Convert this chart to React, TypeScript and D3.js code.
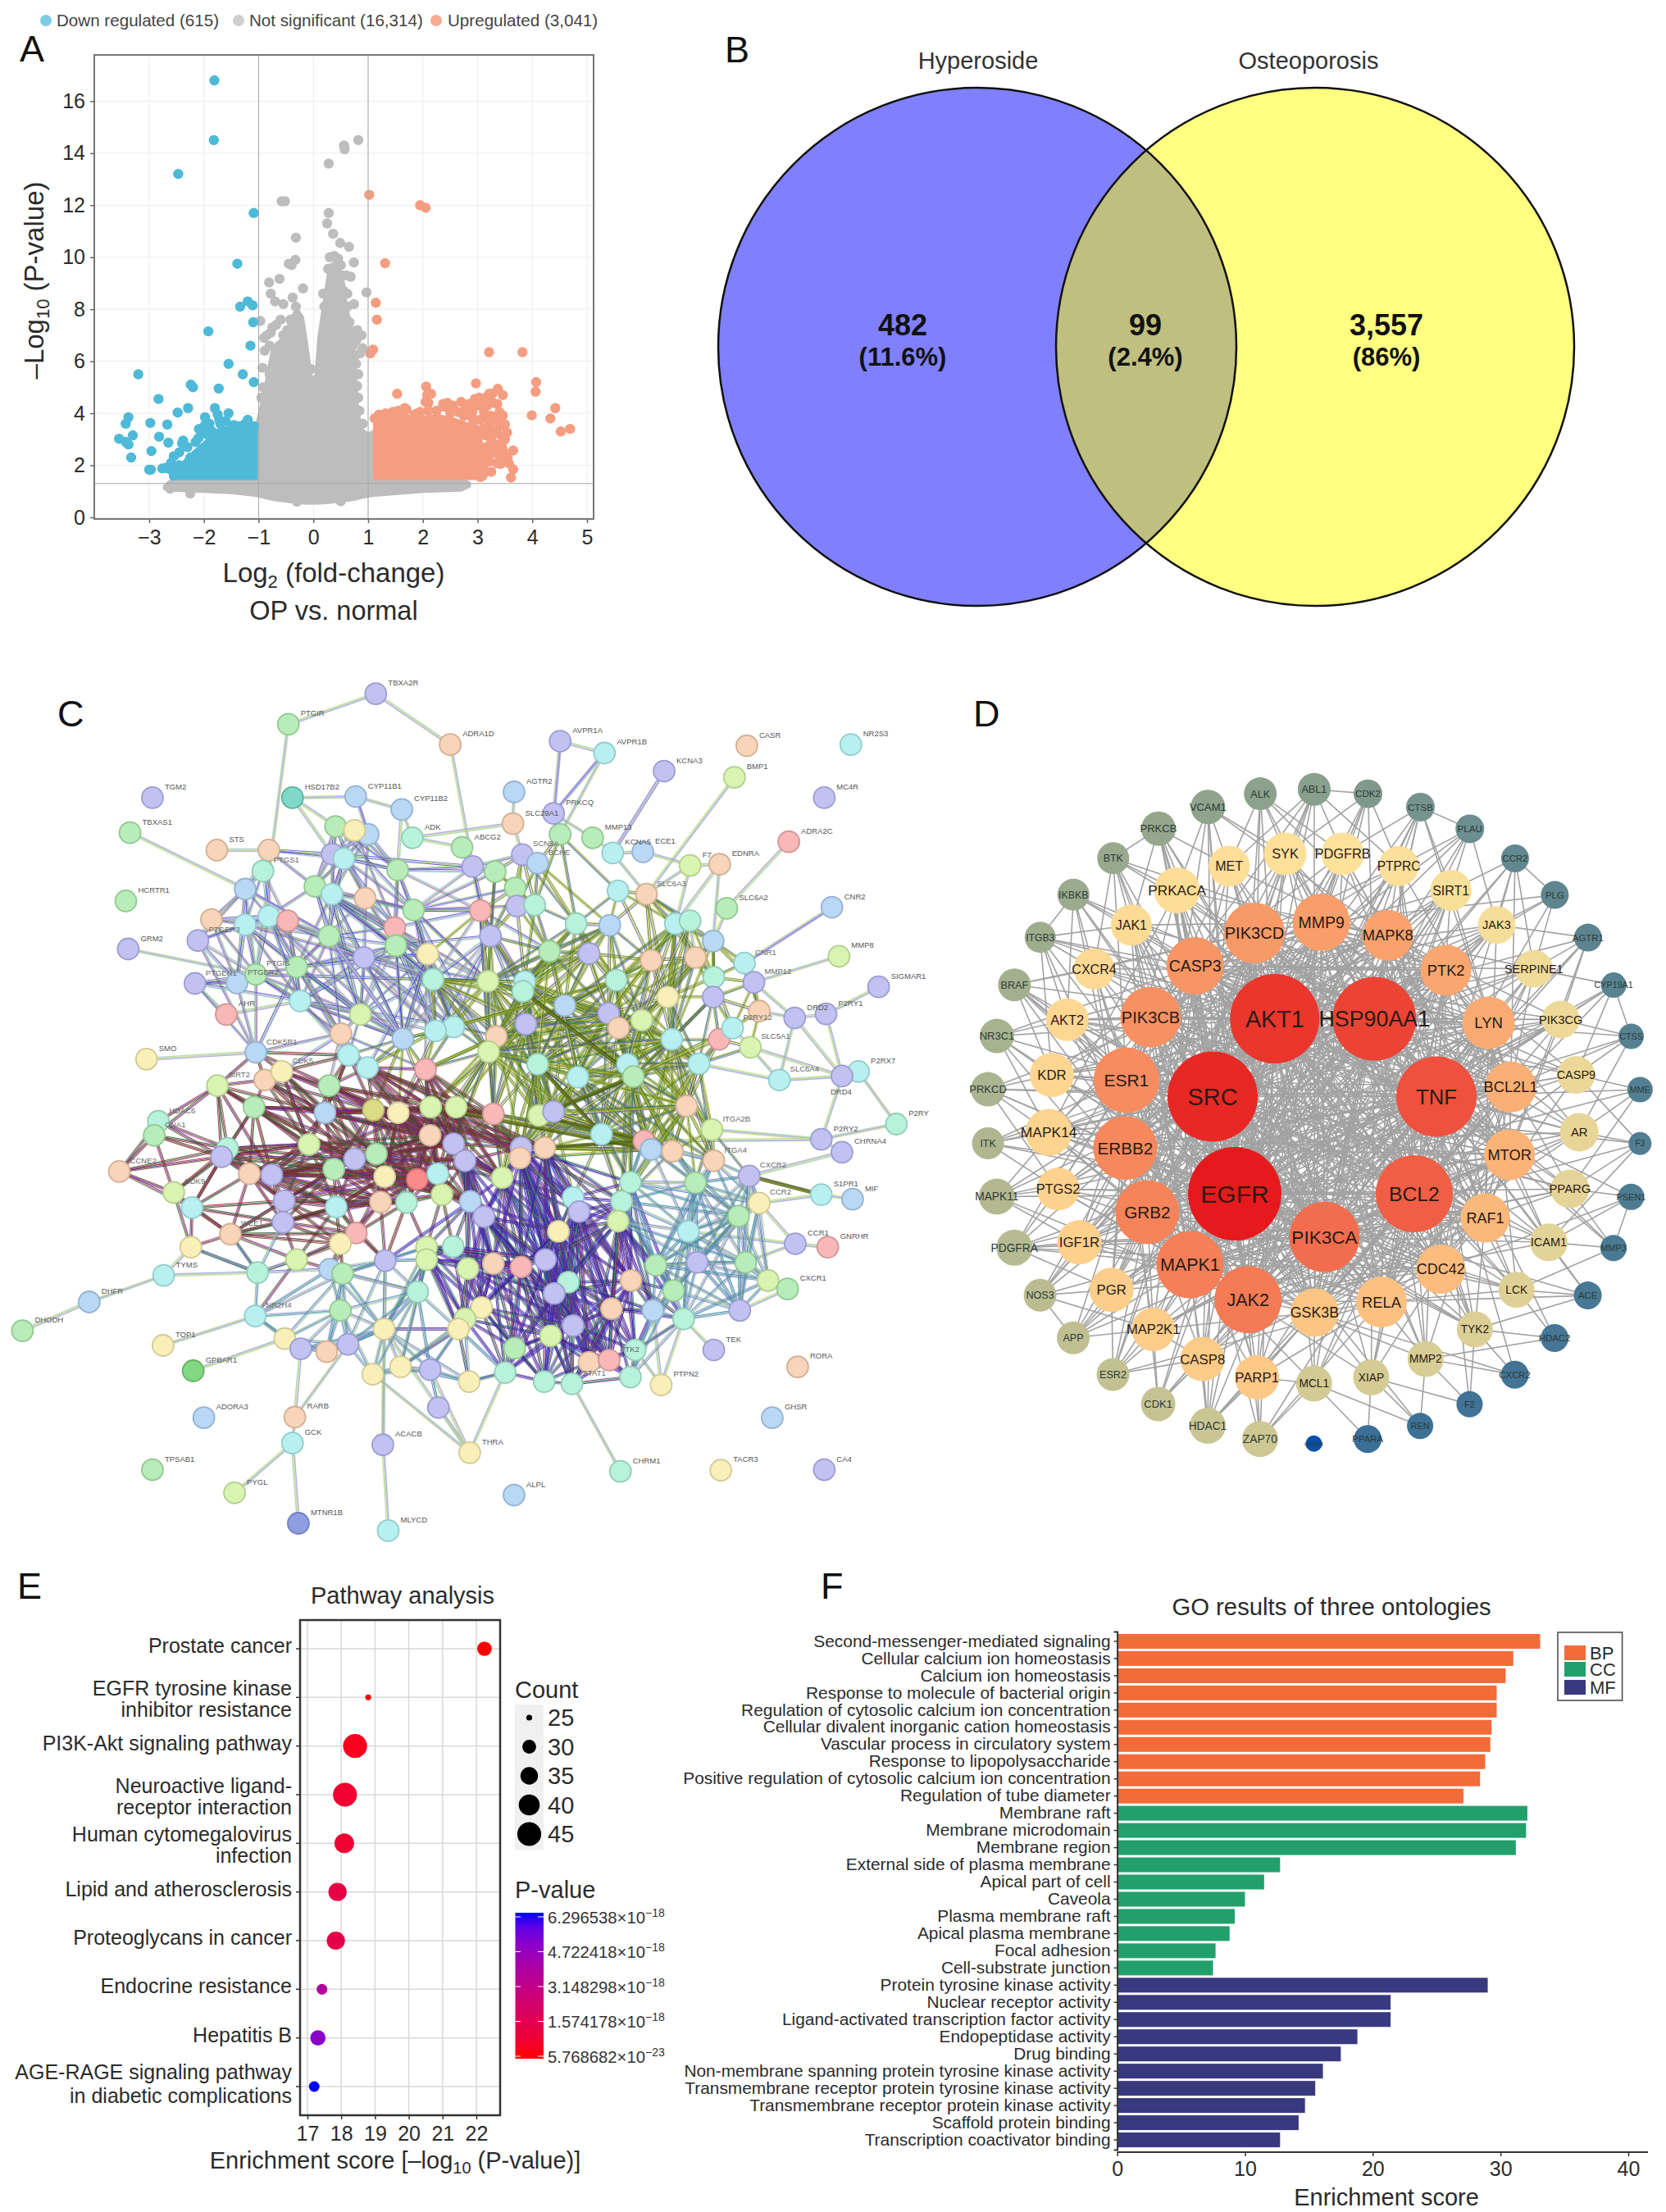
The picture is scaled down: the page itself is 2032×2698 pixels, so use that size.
import { useEffect, useRef } from "react"
import * as d3 from "d3"

const FONT = "'Liberation Sans', Arial, sans-serif"
const INK = "#2b2b2b"

// ---- A: volcano. The packed middle of each cloud is drawn as an envelope
const legendA = ["Down regulated (615)", "Not significant (16,314)", "Upregulated (3,041)"]
const xTicksA = [-3, -2, -1, 0, 1, 2, 3, 4, 5]
const yTicksA = [0, 2, 4, 6, 8, 10, 12, 14, 16]
// [log2fc, lower, upper]
const nsEnvelope: [number, number, number][] = [
  [-2.72, 1.1, 1.2], [-2.6, 1.05, 1.42], [-2, 1.0, 1.46], [-1.5, 0.95, 1.46], [-1.06, 0.85, 1.46], [-1.05, 0.85, 3.4],
  [-0.95, 0.8, 4.3], [-0.85, 0.75, 5.3], [-0.8, 0.72, 5.9], [-0.75, 0.7, 6.4], [-0.65, 0.66, 6.7], [-0.5, 0.63, 7],
  [-0.42, 0.6, 7.6], [-0.3, 0.58, 8], [-0.2, 0.56, 7.7], [-0.12, 0.55, 6.6], [-0.05, 0.55, 5.5], [0, 0.55, 4.8],
  [0.05, 0.55, 5.4], [0.1, 0.55, 6.9], [0.2, 0.57, 8.3], [0.3, 0.58, 9.7], [0.45, 0.62, 9.7], [0.55, 0.64, 9],
  [0.6, 0.66, 8.1], [0.7, 0.68, 7.3], [0.74, 0.7, 6.4], [0.77, 0.7, 5.4], [0.8, 0.72, 4.4], [0.86, 0.76, 3.4],
  [1.0, 0.82, 3.2], [1.1, 0.85, 3.3], [1.11, 0.85, 1.46], [2, 1.0, 1.46], [2.7, 1.05, 1.46], [2.85, 1.2, 1.32],
]
const downEnvelope: [number, number][] = [[-2.5, 1.56], [-2.45, 1.9], [-2.3, 2.3], [-2, 2.85], [-1.75, 3.35], [-1.5, 3.5], [-1.05, 3.5]]
const upEnvelope: [number, number][] = [[1.12, 3.6], [1.4, 3.9], [1.7, 3.9], [2, 3.85], [2.3, 3.9], [2.6, 3.75], [2.8, 3.6], [3, 3.5], [3.1, 2.6], [3.14, 2], [3.04, 1.56]]
const downPoints: [number, number][] = [
  [-1.81, 16.8], [-1.82, 14.5], [-2.47, 13.2], [-1.09, 11.7], [-1.39, 9.75], [-1.34, 8.1], [-1.2, 8.3], [-1.11, 8.15], [-1.1, 7.5], [-1.92, 7.15],
  [-1.15, 6.6], [-1.55, 5.9], [-1.29, 5.5], [-1.09, 5.2], [-1.73, 4.95], [-3.2, 5.5], [-2.24, 5.1], [-2.2, 5.0], [-2.83, 4.55], [-2.29, 4.2],
  [-2.48, 4.03], [-1.8, 4.2], [-1.55, 4.0], [-1.98, 3.85], [-3.38, 3.85], [-3.43, 3.6], [-2.98, 3.63], [-2.67, 3.57], [-3.3, 3.15], [-3.55, 3.02],
  [-3.43, 2.9], [-3.38, 2.8], [-2.96, 2.55], [-3.33, 2.3], [-3.0, 1.83], [-2.97, 1.83], [-2.76, 1.88], [-2.82, 3.1], [-2.65, 2.87], [-2.38, 2.95],
  [-2.55, 1.6], [-2.09, 3.4], [-1.08, 3.5], [-1.2, 3.75], [-1.25, 3.6], [-1.35, 3.5], [-1.45, 3.55], [-1.6, 3.7], [-1.7, 3.6], [-1.72, 3.75],
  [-1.85, 3.3], [-1.95, 3.2], [-2.05, 3.4], [-2.1, 3.05], [-2.15, 2.9], [-2.3, 2.7], [-2.4, 2.85], [-2.45, 2.5], [-2.55, 2.35], [-2.6, 2.1],
  [-2.62, 1.85], [-2.7, 1.9], [-2.5, 1.75], [-2.45, 2.0], [-2.35, 1.9], [-2.25, 2.3], [-1.98, 3.55], [-1.75, 3.95], [-1.9, 3.6],
]
const nsPoints: [number, number][] = [
  [0.82, 14.5], [0.56, 14.3], [0.57, 14.15], [0.28, 13.6], [-0.58, 12.15], [-0.52, 12.15], [0.28, 11.7], [0.25, 11.3], [-0.32, 10.75], [0.36, 10.9],
  [0.49, 10.55], [0.65, 10.4], [-0.45, 9.75], [-0.33, 9.9], [-0.4, 9.7], [0.74, 9.8], [-0.62, 9.17], [-0.81, 9.03], [-0.78, 8.6], [-0.19, 8.8],
  [-0.38, 8.45], [-0.7, 8.3], [0.68, 9.25], [0.97, 8.65], [-0.97, 7.55], [-0.78, 7.1], [-0.89, 6.4], [0.8, 7.2], [0.9, 6.5], [0.8, 5.05],
  [-0.93, 5.75], [-0.84, 4.8], [0.3, 10], [0.38, 10.05], [0.45, 9.95], [0.42, 9.7], [0.27, 9.55], [0.5, 9.7], [0.52, 9.3], [0.6, 9.3],
  [0.62, 8.6], [0.55, 8.7], [0.18, 8.6], [0.2, 8.1], [0.62, 8.1], [0.66, 7.5], [0.7, 7], [0.72, 6.6], [0.75, 6.2], [0.7, 5.6],
  [0.72, 4.7], [0.68, 3.9], [-0.32, 8.1], [-0.42, 7.6], [-0.48, 7.2], [-0.55, 7], [-0.62, 6.6], [-0.7, 6], [-0.8, 5.5], [-0.78, 4.9],
  [-0.85, 4.3], [-0.88, 3.9], [-0.92, 3.6], [0.05, 5.3], [-2.62, 1.1], [-2.25, 0.92], [0.5, 0.62], [-0.3, 0.6],
  [-0.75, 7.3], [-0.85, 7.0], [-0.9, 6.9], [-0.68, 7.4], [-0.6, 7.6], [-0.55, 8.2], [-0.8, 6.6], [-0.92, 5.0], [-0.95, 4.6], [0.78, 6.8],
  [0.85, 6.3], [0.78, 5.9], [0.82, 5.5], [0.74, 8.2], [0.88, 7.0], [0.82, 4.6], [0.84, 4.1], [0.9, 3.6], [0.05, 4.9], [-0.04, 5.7],
]
const upPoints: [number, number][] = [
  [1.02, 12.4], [1.95, 12.0], [2.05, 11.9], [1.31, 9.77], [1.14, 8.25], [1.16, 7.6], [1.09, 6.45], [1.04, 6.3], [3.21, 6.35], [3.82, 6.35],
  [4.07, 5.2], [4.06, 4.83], [2.97, 5.15], [2.06, 5.03], [1.53, 4.75], [3.37, 4.94], [3.46, 4.7], [4.42, 4.2], [3.99, 3.92], [4.33, 3.8],
  [4.52, 3.3], [4.69, 3.4], [3.65, 2.57], [3.61, 1.53], [3.65, 1.85], [3.46, 3.92], [3.54, 3.26], [3.57, 2.08], [3.36, 2.08], [2.85, 4.36],
  [3.03, 4.6], [3.21, 4.75], [2.7, 4.44], [2.37, 4.36], [2.05, 4.44], [1.67, 4.2], [3.1, 4.2], [3.36, 4.36], [3.5, 3.57], [3.21, 3.57],
  [2.92, 3.73], [3.28, 2.63], [1.12, 3.8], [1.2, 3.95], [1.32, 4.0], [1.45, 4.05], [1.55, 4.1], [1.7, 4.15], [1.9, 4.0], [2.08, 4.7],
  [2.1, 4.4], [2.25, 4.1], [2.4, 4.25], [2.5, 4], [2.65, 4.05], [2.75, 3.9], [2.9, 3.85], [3, 4.3], [3.1, 4.45], [3.15, 3.9],
  [3.3, 3.75], [3.4, 3.5], [3.45, 3.1], [3.3, 3.2], [3.35, 2.8], [3.25, 2.95], [3.15, 3.15], [3.2, 2.4], [3.15, 2.1], [3.1, 1.9],
  [3.05, 1.55], [3.4, 2.35], [3.45, 2.7], [3.55, 2.3], [3.5, 3.0], [3.15, 2.7], [2.9, 4.05], [3.27, 4.75], [3.4, 4.05], [3.28, 4.4],
  [3.12, 4.05], [1.85, 3.95], [1.62, 3.9], [1.95, 4.05], [2.55, 4.3], [2.78, 4.2], [2.95, 4.55], [3.15, 4.6], [3.18, 4.3], [3.25, 3.9],
  [3.35, 3.35], [3.05, 3.75], [3.2, 3.35], [3.3, 2.5], [3.22, 2.15], [3.25, 1.75], [3.12, 1.7], [3.42, 2.05], [3.48, 2.5], [3.1, 3.4],
  [2.15, 4.75], [2.1, 4.1], [2.45, 4.4], [3.05, 3.2], [3.4, 3.85],
]

// ---- B: venn
const vennSets = ["Hyperoside", "Osteoporosis"]
const vennCounts = ["482", "99", "3,557"]
const vennShares = ["(11.6%)", "(2.4%)", "(86%)"]

// ---- C: STRING network, node positions on a 0-1568 layout grid
const pastel: Record<string, [string, string]> = {
  p: ["#c2c2f2", "#9c9cd2"], g: ["#b8ecb8", "#92c892"], b: ["#b9d8f4", "#94b2d2"], c: ["#b8f0f0", "#92cccc"], t: ["#b8f2dc", "#92ccb6"],
  o: ["#f8d4b8", "#d2ae94"], y: ["#f8f0b8", "#d2ca94"], l: ["#d8f4b0", "#b2ce8e"], r: ["#f8b8b8", "#d29494"],
  R: ["#f88a8a", "#d26c6c"], k: ["#dcdc88", "#b6b66c"], m: ["#7fd8c8", "#5ab2a2"], G: ["#82d882", "#62b262"], B: ["#8f9ee0", "#707fc0"],
}
const stringNamed: [string, number, number, string][] = [
  ["TBXA2R", 636, 38, "p"], ["PTGIR", 488, 92, "g"], ["ADRA1D", 762, 128, "o"], ["AVPR1A", 948, 122, "p"], ["AVPR1B", 1023, 143, "c"], ["KCNA3", 1124, 175, "p"],
  ["CASR", 1264, 130, "o"], ["NR2S3", 1440, 128, "c"], ["BMP1", 1243, 186, "l"], ["TGM2", 258, 222, "p"], ["TBXAS1", 220, 284, "g"], ["MC4R", 1395, 222, "p"],
  ["ADRA2C", 1335, 300, "r"], ["AGTR2", 870, 212, "b"], ["HSD17B2", 495, 222, "m"], ["CYP11B1", 602, 220, "b"], ["CYP11B2", 680, 243, "b"], ["SLC29A1", 868, 268, "o"],
  ["PRKCQ", 937, 250, "p"], ["ABCG2", 782, 310, "g"], ["ADK", 698, 293, "t"], ["STS", 367, 315, "o"], ["MMP13", 1003, 293, "g"], ["ECE1", 1088, 318, "b"],
  ["KCNA5", 1037, 320, "c"], ["F7", 1168, 342, "l"], ["EDNRA", 1218, 340, "o"], ["HCRTR1", 213, 405, "g"], ["GRM2", 217, 490, "p"], ["SLC6A2", 1230, 418, "g"],
  ["CNR2", 1408, 416, "b"], ["MMP8", 1420, 503, "l"], ["SIGMAR1", 1487, 557, "p"], ["AHR", 383, 606, "r"], ["SMO", 248, 685, "y"], ["P2RY1", 1398, 605, "p"],
  ["DRD2", 1345, 612, "p"], ["P2RX7", 1453, 707, "c"], ["DRD4", 1425, 715, "p"], ["P2RY", 1517, 800, "t"], ["P2RY2", 1390, 827, "p"], ["CHRNA4", 1425, 850, "p"],
  ["S1PR1", 1390, 925, "c"], ["MIF", 1443, 933, "b"], ["GNRHR", 1401, 1018, "r"], ["CCR1", 1346, 1012, "p"], ["CXCR1", 1333, 1092, "g"], ["RORA", 1350, 1230, "o"],
  ["GHSR", 1307, 1320, "b"], ["TACR3", 1220, 1413, "y"], ["CA4", 1395, 1412, "p"], ["CHRM1", 1050, 1415, "t"], ["ALPL", 870, 1457, "b"], ["THRA", 795, 1382, "y"],
  ["ACACB", 648, 1368, "p"], ["MLYCD", 657, 1520, "c"], ["MTNR1B", 505, 1507, "B"], ["PYGL", 397, 1453, "l"], ["TPSAB1", 258, 1412, "g"], ["ADORA3", 345, 1320, "b"],
  ["GCK", 495, 1365, "c"], ["RARB", 499, 1319, "o"], ["GPBAR1", 327, 1237, "G"], ["TOP1", 276, 1192, "y"], ["DHODH", 38, 1166, "g"], ["DHFR", 151, 1115, "b"],
  ["TYMS", 277, 1068, "c"], ["TEK", 1208, 1200, "p"], ["PTPN2", 1119, 1262, "y"],
]
// rows of ten, so an index in the link lists is row * 10 + column
const stringCore: [number, number, string][] = [
  [455, 315, "o"], [562, 322, "p"], [582, 330, "c"], [623, 287, "b"], [568, 273, "g"], [600, 280, "y"], [445, 352, "t"], [415, 384, "b"], [533, 379, "g"], [562, 393, "c"],
  [618, 400, "o"], [673, 350, "g"], [358, 438, "o"], [335, 475, "p"], [415, 447, "c"], [455, 432, "c"], [487, 440, "r"], [557, 467, "g"], [668, 452, "r"], [670, 484, "g"],
  [700, 421, "g"], [800, 344, "p"], [838, 353, "g"], [884, 323, "p"], [910, 338, "b"], [948, 287, "g"], [872, 382, "g"], [875, 414, "p"], [905, 412, "t"], [813, 422, "r"],
  [830, 467, "p"], [975, 445, "t"], [1032, 448, "b"], [1046, 387, "c"], [1094, 393, "o"], [1143, 445, "c"], [1168, 440, "t"], [1207, 476, "b"], [1177, 505, "o"], [1102, 510, "o"],
  [997, 498, "p"], [930, 494, "g"], [724, 499, "y"], [616, 505, "p"], [502, 522, "g"], [330, 551, "p"], [401, 550, "b"], [433, 535, "g"], [508, 582, "c"], [610, 606, "l"],
  [733, 544, "t"], [826, 547, "l"], [888, 548, "c"], [885, 565, "t"], [956, 590, "b"], [1043, 545, "t"], [1130, 575, "y"], [1208, 540, "t"], [1260, 515, "c"], [1276, 549, "p"],
  [1207, 575, "p"], [1285, 600, "o"], [1030, 604, "p"], [1086, 616, "l"], [1047, 630, "o"], [890, 623, "p"], [840, 645, "o"], [768, 628, "c"], [737, 635, "c"], [682, 649, "b"],
  [577, 640, "o"], [1137, 650, "c"], [1217, 650, "r"], [1240, 630, "c"], [1270, 664, "l"], [1319, 722, "c"], [1183, 693, "c"], [827, 672, "l"], [1062, 694, "c"], [910, 694, "t"],
  [978, 717, "c"], [1072, 716, "g"], [433, 673, "b"], [590, 678, "c"], [622, 700, "c"], [720, 703, "r"], [448, 722, "o"], [477, 707, "y"], [368, 732, "l"], [557, 732, "g"],
  [430, 770, "g"], [268, 795, "t"], [261, 820, "g"], [550, 780, "b"], [632, 775, "k"], [674, 780, "y"], [729, 770, "l"], [772, 770, "l"], [835, 782, "r"], [912, 785, "l"],
  [937, 778, "p"], [1162, 768, "o"], [1205, 810, "l"], [1018, 818, "c"], [1090, 830, "r"], [1102, 845, "b"], [1138, 848, "o"], [1208, 865, "o"], [1268, 892, "p"], [728, 820, "o"],
  [768, 835, "p"], [882, 842, "p"], [922, 842, "o"], [880, 860, "o"], [787, 865, "p"], [523, 836, "l"], [637, 853, "g"], [600, 862, "p"], [385, 843, "t"], [375, 858, "p"],
  [202, 884, "o"], [422, 888, "o"], [460, 890, "p"], [565, 880, "g"], [651, 893, "y"], [706, 898, "R"], [741, 888, "c"], [850, 895, "l"], [294, 921, "l"], [325, 948, "c"],
  [481, 936, "p"], [569, 947, "c"], [644, 938, "o"], [688, 939, "t"], [748, 925, "l"], [796, 937, "b"], [819, 964, "p"], [970, 930, "c"], [980, 955, "p"], [1052, 937, "t"],
  [1067, 903, "t"], [1046, 972, "l"], [1177, 904, "g"], [1285, 940, "y"], [1250, 963, "g"], [479, 974, "p"], [390, 995, "o"], [323, 1018, "y"], [945, 990, "y"], [1165, 990, "c"],
  [603, 993, "r"], [576, 1012, "y"], [502, 1040, "l"], [436, 1063, "t"], [652, 1042, "p"], [722, 1018, "l"], [722, 1040, "l"], [767, 1017, "t"], [558, 1057, "b"], [580, 1065, "g"],
  [792, 1056, "l"], [835, 1047, "o"], [882, 1053, "r"], [923, 1040, "p"], [1110, 1050, "g"], [1180, 1045, "p"], [1262, 1045, "g"], [1300, 1077, "l"], [1068, 1077, "o"], [962, 1080, "t"],
  [938, 1100, "p"], [707, 1097, "t"], [1140, 1095, "g"], [432, 1140, "c"], [576, 1130, "g"], [815, 1125, "y"], [787, 1145, "l"], [776, 1163, "y"], [1035, 1127, "o"], [1105, 1130, "b"],
  [1157, 1145, "t"], [1252, 1130, "p"], [970, 1157, "p"], [932, 1175, "l"], [650, 1163, "y"], [482, 1180, "y"], [589, 1190, "p"], [509, 1198, "p"], [553, 1203, "o"], [871, 1197, "g"],
  [1075, 1200, "t"], [997, 1222, "o"], [1031, 1218, "r"], [631, 1243, "y"], [678, 1230, "y"], [728, 1235, "p"], [794, 1256, "y"], [855, 1240, "t"], [921, 1256, "t"], [968, 1260, "t"],
  [1067, 1248, "t"], [742, 1302, "p"],
]
const stringCoreLabels: [number, string][] = [
  [6, "PTGS1"], [13, "PTGER3"], [45, "PTGER1"], [46, "PTGER2"], [47, "PTGIS"], [23, "SCN5A"], [24, "BCHE"], [34, "SLC6A3"], [58, "CNR1"], [59, "MMP12"],
  [73, "P2RY12"], [74, "SLC5A1"], [75, "SLC6A4"], [102, "ITGA2B"], [107, "ITGA4"], [108, "CXCR2"], [143, "CCR2"], [88, "SIRT2"], [91, "HDAC6"], [92, "CNA1"],
  [120, "CCNE2"], [128, "CDK9"], [146, "WEE1"], [173, "NR2H4"], [175, "PLIN1"], [82, "CDK5R1"], [87, "CDK5"], [169, "PIK"], [192, "PTK2"], [199, "STAT1"],
]
// Peripheral links follow the picture. In the dense core single links cannot be followed by eye,
// so those lists are a hand-written approximation of each region's density, not a reading.
const stringPeripheral = [
  "TBXA2R PTGIR", "TBXA2R ADRA1D", "PTGIR 47", "ADRA1D 21", "AVPR1A AVPR1B", "AVPR1B 25", "BMP1 34",
  "ADRA2C SLC6A2", "MMP8 59", "SIGMAR1 P2RY1", "SMO 82", "GRM2 47", "TBXAS1 7", "STS 0", "HSD17B2 CYP11B1", "HSD17B2 4", "HSD17B2 1", "CYP11B1 CYP11B2",
  "CYP11B1 3", "CYP11B2 11", "CYP11B2 ADK", "ADK ABCG2", "ABCG2 21", "AGTR2 SLC29A1", "SLC29A1 23", "SLC29A1 ADK", "PRKCQ MMP13", "MMP13 KCNA5", "KCNA5 ECE1",
  "KCNA5 34", "ECE1 F7", "F7 EDNRA", "F7 34", "F7 35", "EDNRA 35", "EDNRA 37", "SLC6A2 37", "AHR 48", "AHR 45", "13 12", "DHODH DHFR", "DHFR TYMS", "TYMS 153",
  "TYMS 147", "TOP1 173", "GPBAR1 185", "MTNR1B GCK", "GCK RARB", "GCK PYGL", "RARB 187", "RARB 186", "ACACB MLYCD", "ACACB 154", "ACACB 184", "THRA 201", "THRA 184",
  "THRA 193", "THRA 197", "THRA 195", "CHRM1 199", "TEK 180", "PTPN2 179", "PTPN2 190", "PTPN2 180", "DRD2 P2RY1", "DRD2 61", "DRD2 59", "DRD2 DRD4", "DRD2 75",
  "P2RY1 DRD4", "P2RX7 DRD4", "P2RX7 P2RY", "DRD4 75", "DRD4 74", "P2RY P2RY2", "DRD4 P2RY2", "P2RY2 CHRNA4", "P2RY2 102", "P2RY2 104", "CHRNA4 108", "S1PR1 MIF",
  "S1PR1 143", "CCR1 143", "CCR1 166", "CCR1 149", "CCR1 GNRHR", "CXCR1 167", "CXCR1 181", "CXCR1 166", "74 75", "75 76", "74 73", "72 73", "38 36",
]
const stringBold: [string, string[]][] = [
  ["violet", ["CNR2 58", "KCNA3 KCNA5", "AVPR1B PRKCQ", "AVPR1A PRKCQ", "1 3", "3 CYP11B1", "7 17", "17 69"]],
  ["dark", ["S1PR1 108", "104 99", "81 99", "103 79", "104 112", "105 96", "81 53"]],
]
const stringCoreLinks: [string, string[]][] = [
  ["ultra", [
    "0:1 2 6 7 8 15", "1:2 3 4 5 8 9 21 11", "3:4 5 9 8 11 10 1 2", "4:8 9 10 11 20", "5:9 11 18", "6:7 14 15 16", "7:12 13 14 15 17 46 47", "8:9 17 19 18 43 15",
    "9:10 17 18 20 43 44", "10:19 20 42 43 44", "11:18 19 20 21 22 29 42", "14:15 46 47 16 44", "15:16 17 44 48 47", "16:17 43 44 48", "17:18 19 43 44 48 69", "18:19 29 42 50",
    "19:42 50 69 30", "20:21 22 27 29 26 51", "21:22 23 29 30", "43:44 49 69 48", "44:48 69 70 49", "47:46 48 82", "48:69 49 83", "46:45 82", "49:69 70 83 50", "50:69 67 77 51",
    "12:14-16 46 47", "13:14 15 46 47 82", "45:46 47 82 48", "2:8-11 17-20", "42:43 44 49 50 51 69", "43:49-51 67-69", "44:47 82 83 69 70", "47:48-50 70", "48:67-69 84",
    "19:43 44 48-50 67-69 77", "20:42 50 51 67 68 77", "18:49 50 51 68 69", "17:49 50 67-70", "29:41 50-53 77", "30:50-53 65 67-69", "42:67-69 77 84 85", "70:82-85 87 89",
    "9:19 42 49 50 69", "8:18-20 42 49 50", "14:17 43 48 49", "15:43 48 49 69 70",
  ]],
  ["olive", [
    "22:26 28 23 51 30", "23:24 26 27 28 31", "24:28 27 31 32 25", "25:33 31 28", "26:27 28 29 41 30", "27:28 30 41 52", "28:31 41 53", "29:30 42 51 77", "30:41 51 52 66",
    "31:32 33 40 41 55", "32:33 34 39 40 55", "33:34 35 39", "34:35 36 37 39 38 56", "35:36 37 38 39 56 57", "37:38 57 58 59 60", "38:39 56 57 60", "39:40 55 56 63",
    "40:41 54 55 62 63", "41:51 52 53 54 65", "51:52 53 66 77 67 68 65", "52:53 54 65 77 79", "53:54 65 66 79 62", "54:55 62 63 65 79 80", "55:56 62 63 64 78", "56:57 60 63 71 64",
    "57:58 59 60 73", "58:59 61", "59:60 61 73", "60:61 71 72 73", "61:73 74", "62:63 64 78 80 79", "63:64 71 78 81", "64:71 78 81 76", "65:66 77 79 80 98 99", "66:67 77 79 98",
    "67:68 69 77 85", "68:69 84 85 95", "69:83 84 85 94 95 96", "71:72 76 78 81", "72:73 74 76", "74:76", "76:81 101 102", "77:79 85 97 98 99 96 127", "78:80 81 101 103",
    "79:80 98 99 100 103 127", "80:81 99 100 103 104 112", "81:101 103 104 105 139", "99:100 103 111 112 127", "100:103 111 112 137", "98:127 111 113 114 110", "101:102 104 105 106 107",
    "102:106 107 108 142", "103:104 105 112 137 139 140", "104:97 98 112 96", "105:98 111 113 112", "106:111 112 139",
    "50:51-54 65-68 77-79", "51:54 62 63 79-81 98-100", "52:62-64 77-81 99 100", "53:77-81 98-100", "54:64 71 77-81 99 100 103", "55:65-68 77-81 76", "56:62 64 76 78 81 101",
    "62:65 66 71 76-81 99-103", "63:65-66 76-81 101-103", "64:77 79 80 101-105", "65:85 96-100 127", "66:85 96-100 110 111", "71:76-81 101-107", "76:78 80 103-107", "77:80 81 100 103 109 110",
    "78:99 100 104-107 139 140", "79:81 101 104 105 111-113", "80:101 105-107 111-113 139 140", "81:99 100 106 107 111 112 140 142", "38:55 62-64 71", "39:54 62 64 71 78", "40:51-53 65 66 79",
    "41:62 66 77 79 80", "31:51-55 62", "32:41 51-54 62 63", "35:54-56 62-64 71", "36:55-57 63 71", "37:56 60 63 71", "60:71 76 81", "73:76 81", "72:81 101", "101:81 103 139 140 142",
    "99:101 104 105", "100:101 104-106",
  ]],
  ["maroon", [
    "82:83 87 86 88 89", "83:84 87 89 93 94", "84:85 89 94 95 96", "85:95 96 97 98 109", "86:87 88 90 93", "87:89 93 115", "88:90 91 92 118 119", "89:93 94 115 116 117 96 97",
    "90:93 115 118 119 121 122", "91:92 118 119 120", "92:118 119 120 128", "93:94 115 116 117 122 123 110 97", "94:95 96 109 116 117 123 124 125 111 112 127 98",
    "95:96 97 109 110 116 124 125 126 127 111 112", "96:97 98 109 110 114 125 126 127", "97:98 109 110 111 114 126 127", "109:110 114 116 124 125 126 133 134", "110:111 114 126 127 134 135",
    "114:126 127 134 135 136 111", "115:117 118 119 121 122 123 130 131", "116:117 123 124 125 132 133 127 135 136 110", "117:122 123 124 130 131 132", "118:119 120 121 128 129",
    "119:120 121 122 128 129 130", "120:128 129", "121:122 129 130 145 146", "122:123 130 131 145 110 126 96", "123:124 130 131 132 150 135 109", "124:125 131 132 133 150", "125:126 132 133 134 135",
    "126:133 134 135 136", "128:129 146 147", "129:130 145 146 147", "130:131 145 146 150 151", "131:132 145 150 151 152", "132:133 150 151 154", "133:134 150 154 155", "134:135 155 157",
    "145:146 151 152", "146:147 152 153", "147:153", "150:151 152 154 158", "151:152 158 159", "152:153 158 173",
    "93:95-97 109-111", "94:97 110 114 126 127 133 134", "95:114 132-135", "96:111-114 132-135", "97:112 113 133-136", "115:116 124 125 126 109 110", "116:126 114 134",
    "117:125-126 109 110 114 133", "122:115-117 124 125 132 133", "121:115 117 123 131 132", "118:115 117 122 123 130", "119:115 117 123 131", "123:125 126 133 134", "124:126 134 135",
    "130:123-125 132 133", "131:124 125 133 134 154", "145:123 131 132 150", "146:130 131 150 151", "90:94 95 116 117 123", "89:95 109 110 124", "88:93 115 117 122", "86:93 94 115-117",
    "87:94 95 115-117", "83:93 95-97 109", "84:97 98 109 110", "85:109-111 114 127",
  ]],
  ["navy", [
    "135:136 155 157 160 161 154", "111:112 113 127 136 137 138", "112:113 137 138 139 148", "113:127 136 137 148 162", "127:135 136 148 161 162 163", "136:148 160 161 162 163 175",
    "137:138 139 140 141 148 169", "138:139 141 148 163 169 168", "139:140 141 168 164", "141:148 164 168 169 172 178", "148:162 163 168 169 170 182", "155:156 157 160 161 171 175",
    "156:157 160 171 175 176", "157:160 161 175", "160:161 162 175 176 177", "161:162 163 170 175 176 182", "162:163 170 175 182 183", "163:169 170 182 183 178", "168:169 170 172 178 182 191",
    "169:170 178 182 192", "170:178 182 183 189 191", "175:176 177 183 189", "176:177 183 189 197", "177:184 194 196", "178:179 180 182 190 191 192", "182:183 190 191 192 198 199",
    "183:189 197 198 199", "189:197 198", "190:191 192 179 180 200", "191:192 198 199", "192:199 200", "198:199", "199:200", "197:196 198",
    "113:148 182 170 163", "127:170 183 169 189", "136:183 182 170", "112:163 169 170 182", "111:162 163 148 170", "137:168 170 178 182", "138:178 182 191 192",
    "110:135 136 127 161", "114:136 148 160-163", "127:137 138", "111:139 140 168 169 178 182", "112:141 162 168 178 183 191", "113:138 169 175 183", "135:148 162 163 170 175",
    "136:169 176", "137:163 191", "138:183 190", "139:148 163 169 178 179", "140:168 172 178 179", "141:163 170 179 180 190-192", "148:175 178 183 191 192", "160:163 170 182 183 189",
    "161:183 189 197 198", "162:176 189 197 198 199", "163:189 191 192 198 199", "169:179 183 190 191 198 199", "170:192 197 198 199", "168:179 180 190 192 199", "178:183 198 199 200",
    "182:189 197 200", "175:182 197 198", "157:162 163 176", "155:162 163 176 177", "156:161 162 177 184", "183:191 192 200",
  ]],
  ["teal", [
    "104:105 106 107 139 140", "105:106 140 142", "106:107 142 144", "107:108 142 143 144", "108:143 144 149 166", "139:142 144", "140:141 142 143 144 164", "142:143 144 149 164 165",
    "143:144 149 166", "144:149 164 165 166 167 181", "149:164 165 166 167 172 181", "164:165 166 172 179 180", "165:166 167 172 180 181", "166:167 181 180", "167:181 180",
    "172:179 180 181", "179:180", "180:181", "153:173 158 152", "154:155 156 159 171 184", "158:159 173 174", "159:171 174 184", "171:184 193 194 177", "173:174 185 187", "174:184 186 188",
    "184:186 193 194", "185:186 187 188", "186:187 188 193", "187:188", "193:194 195", "194:195 196", "195:196 201", "196:197",
    "142:166 172 180 181", "143:164 165 167 181", "144:172 179 180", "149:179 180", "164:167 181", "165:179", "139:149 164 172", "140:149", "141:149 165 166", "108:142 165 167 181", "107:149 164",
    "105:144 149", "172:190 200", "179:200", "180:190 200", "153:145 146 147", "154:158 159 186", "155:159 171 184", "158:171 184", "156:184 171 194", "159:173 185 186 188", "174:185 187 193",
    "184:187 188 195 196", "171:174 186 195", "176:194 195 196", "177:195 197",
  ]],
]
const strandPalettes: Record<string, string[]> = {
  ultra: ["#6a5ad0", "#88c878", "#4a40c0", "#b0a0e0", "#70c0a0", "#a07090"],
  olive: ["#7a8a10", "#a0b030", "#4f7a20", "#c0c860", "#6a5aa0", "#2f7a5a"],
  maroon: ["#8a2a4a", "#6a3a10", "#5b2a9a", "#a8324f", "#2f6b2f", "#553333"],
  navy: ["#3a20b0", "#6a2a9a", "#2a3ad0", "#7a3050", "#2f8f6a", "#402080"],
  teal: ["#50a890", "#6a70c8", "#88c080", "#a8a0d8", "#3a80b0"],
  outer: ["#a49ae0", "#9cd0a0", "#c8d88a"],
  violet: ["#9a90e4", "#8a80dc", "#c0d8b0"],
  dark: ["#5a6a10", "#6a7a20", "#4a5a18"],
}

// ---- D: concentric PPI network, rings hold nodes in clockwise order, degree is read as node size
const ring1Names = ["EGFR", "SRC", "AKT1", "HSP90AA1", "TNF", "BCL2", "PIK3CA"]
const ring1Degree = [57, 55, 54.5, 51, 49, 47, 43]
const ring2Names = ["JAK2", "MAPK1", "GRB2", "ERBB2", "ESR1", "PIK3CB", "CASP3", "PIK3CD", "MMP9", "MAPK8", "PTK2", "LYN", "BCL2L1", "MTOR", "RAF1", "CDC42", "RELA", "GSK3B"]
const ring2Degree = [41, 41, 39, 39, 40, 37, 35, 37, 35, 31, 31, 32, 31, 31, 30, 30, 31, 29.5]
const ring3Names = ["PARP1", "CASP8", "MAP2K1", "PGR", "IGF1R", "PTGS2", "MAPK14", "KDR", "AKT2", "CXCR4", "JAK1", "PRKACA", "MET", "SYK", "PDGFRB", "PTPRC", "SIRT1", "JAK3", "SERPINE1", "PIK3CG", "CASP9", "AR", "PPARG", "ICAM1", "LCK", "TYK2", "MMP2", "XIAP", "MCL1"]
const ring3Degree = [27, 27, 26.5, 27, 27, 26, 28.5, 27, 26, 25, 25, 28, 25, 26, 26, 24.5, 25, 23, 23, 23, 23, 23.5, 23.5, 23, 22, 22, 22, 22, 22]
const ring4Names = ["ZAP70", "HDAC1", "CDK1", "ESR2", "APP", "NOS3", "PDGFRA", "MAPK11", "ITK", "PRKCD", "NR3C1", "BRAF", "ITGB3", "IKBKB", "BTK", "PRKCB", "VCAM1", "ALK", "ABL1", "CDK2", "CTSB", "PLAU", "CCR2", "PLG", "AGTR1", "CYP19A1", "CTSS", "MME", "F3", "PSEN1", "MMP3", "ACE", "HDAC2", "CXCR2", "F2", "REN", "PPARA", "GRM4"]
const ring4Degree = [22, 22, 21, 20, 20, 20, 22, 22, 19.5, 21, 21, 20, 19, 19.5, 19.5, 21, 21, 20, 20, 17.5, 17.5, 17.5, 17, 17, 17, 15.5, 15.5, 15.5, 14, 16, 16, 17, 17, 17, 16, 16, 17, 10]
const ppiColorRank = [0, 7, 25, 39, 53, 72, 76, 90, 91]
const ppiColors = ["#e61a1c", "#f47b55", "#fdc986", "#fee29b", "#d2ca94", "#88a08c", "#62888f", "#3a6f97", "#0850a8"]
// Hub lists in rank order (rings concatenated); hand-written to the look of the web, single lines are not readable in the core
const ppiLinks = [
  "0:1-24 25 27-31 33-36 38-42 44 46-50 54-58 60 62-66 68-72 74-76 79 81 85 89", "1:2-24 26 28-33 35-39 41-44 47-51 55 57-59 61-65 67-70 72-74 77 82",
  "2:3-24 25-30 32-37 39-45 48-53 54 56 59-61 64-66 69 71 75 78 83", "3:4-20 22 24 25 27 29 31-34 36 38 40-46 49-52 55 58 62 66-68 71 73-76 80 84",
  "4:5-24 25-29 31-35 38-41 44-53 57 60 63 77-81 84-88", "5:6-24 25-28 30 33 36-38 40 43-46 50-53 54 55 59 61 76 79", "6:7-24 27-32 34-37 39 41 43 47-50 56 60 65 67-69 74 78",
  "7:8-24 29-33 36 38 40-43 46 48 52 56 61 65 69-71 73", "8:9-24 25 28-30 34-36 39-42 44 47 51 55 58 60 66 74 82", "9:10-24 26-29 31 33 35 37 38 41 43-45 49 53 57 64 70 72",
  "10:11-24 27-31 34 38-40 42 45 46 50 59 63 67", "11:12-24 28 30 32-34 36 37 41 44 47 52 56 62 68 75", "12:13-24 25 26 29 33 35 38 40 42 46 48 54 60 72", "13:14-24 27 30 32 36 39 41-44 49 58 61 69",
  "14:15-24 26 28 31 34 37 40 45 47 51 57 65", "15:16-24 25 29 32 35 38 43 46 50 55 64 73 77", "16:17-24 27 30 33 36 39 41 44 48 53 63 70", "17:18-24 26 31 34 37 42 45 47 52 59 68",
  "18:19-24 28 29 32 35 40 46 49 56 66 71", "19:20-24 25 30 33 38 41 43 51 61 74 80", "20:21-24 27 31 36 39 44 48 54 58 67 76", "21:22-24 26 29 34 37 42 47 50 62 78", "22:23 24 28 32 35 40 45 52 60 69 83",
  "23:24 25 30 33 38 43 49 57 65 85", "24:27 31 36 41 46 53 55 72 87", "25:53-55 35", "26:55-57 27", "27:56-59", "28:57-60", "29:59-61", "30:60-63", "31:62-64 36", "32:63-66", "33:64-67", "34:65-68",
  "35:66-69", "36:68-70", "37:69-72", "38:70-73", "39:71-74", "40:72-75", "41:74-76", "42:75-78", "43:76-79", "44:78-80", "45:79-82", "46:80-82", "47:81-84", "48:82-85", "49:84-86", "50:85-88",
  "51:86-89", "52:88-90", "53:89 90 54", "58:59", "66:67", "68:69", "72:73", "74:75", "76:77", "79:80", "83:84",
]

// ---- E: pathway bubbles
const pathwayNames = [["Prostate cancer"], ["EGFR tyrosine kinase", "inhibitor resistance"], ["PI3K-Akt signaling pathway"], ["Neuroactive ligand-", "receptor interaction"], ["Human cytomegalovirus", "infection"], ["Lipid and atherosclerosis"], ["Proteoglycans in cancer"], ["Endocrine resistance"], ["Hepatitis B"], ["AGE-RAGE signaling pathway", "in diabetic complications"]]
const pathwayScore = [22.24, 18.8, 18.41, 18.11, 18.09, 17.89, 17.84, 17.43, 17.31, 17.2]
const pathwayCount = [31, 25, 45, 45, 38, 36, 36, 28, 32, 28]
const countTicks = [25, 30, 35, 40, 45]
const pTickMantissa = ["6.296538", "4.722418", "3.148298", "1.574178", "5.768682"]
const pTickExp = ["−18", "−18", "−18", "−18", "−23"]
const pTickValues = [6.296538e-18, 4.722418e-18, 3.148298e-18, 1.574178e-18, 5.768682e-23]

// ---- F: GO bars
const goTerms = ["Second-messenger-mediated signaling", "Cellular calcium ion homeostasis", "Calcium ion homeostasis", "Response to molecule of bacterial origin", "Regulation of cytosolic calcium ion concentration", "Cellular divalent inorganic cation homeostasis", "Vascular process in circulatory system", "Response to lipopolysaccharide", "Positive regulation of cytosolic calcium ion concentration", "Regulation of tube diameter", "Membrane raft", "Membrane microdomain", "Membrane region", "External side of plasma membrane", "Apical part of cell", "Caveola", "Plasma membrane raft", "Apical plasma membrane", "Focal adhesion", "Cell-substrate junction", "Protein tyrosine kinase activity", "Nuclear receptor activity", "Ligand-activated transcription factor activity", "Endopeptidase activity", "Drug binding", "Non-membrane spanning protein tyrosine kinase activity", "Transmembrane receptor protein tyrosine kinase activity", "Transmembrane receptor protein kinase activity", "Scaffold protein binding", "Transcription coactivator binding"]
const goScores = [33.1, 31, 30.4, 29.7, 29.7, 29.3, 29.2, 28.8, 28.4, 27.1, 32.1, 32, 31.2, 12.75, 11.5, 10, 9.2, 8.8, 7.7, 7.5, 29, 21.4, 21.4, 18.8, 17.5, 16.1, 15.5, 14.7, 14.2, 12.75]
const goOntology = ["BP", "BP", "BP", "BP", "BP", "BP", "BP", "BP", "BP", "BP", "CC", "CC", "CC", "CC", "CC", "CC", "CC", "CC", "CC", "CC", "MF", "MF", "MF", "MF", "MF", "MF", "MF", "MF", "MF", "MF"]
const ontologies = ["BP", "CC", "MF"]
const ontologyColors = ["#f26b38", "#22a06b", "#39397f"]
const goTicks = [0, 10, 20, 30, 40]

type G = d3.Selection<SVGGElement, unknown, null, undefined>

function text(g: G, x: number, y: number, s: string, size: number, anchor = "start", fill = INK, weight = "normal") {
  return g.append("text").attr("x", x).attr("y", y).attr("font-size", size).attr("text-anchor", anchor).attr("fill", fill).attr("font-weight", weight).text(s)
}

function panelLetter(g: G, x: number, y: number, s: string) {
  text(g, x, y, s, 45, "start", "#111")
}

// "3 7-9 12" -> [3, 7, 8, 9, 12]
function expand(list: string) {
  return list.split(" ").flatMap((part) => {
    const [from, to] = part.split("-").map(Number)
    return d3.range(from, (to ?? from) + 1)
  })
}

function drawVolcano(g: G) {
  panelLetter(g, 24, 75, "A")
  const x = d3.scaleLinear().domain([-3, 5]).range([182, 716])
  const y = d3.scaleLinear().domain([0, 16]).range([631, 123.4])
  const left = 115, right = 724, top = 67, bottom = 633

  const legendDots = ["#7ccbe6", "#cfcfcf", "#f7ab91"]
  const legendDotX = [56, 291, 532]
  legendA.forEach((s, i) => {
    g.append("circle").attr("cx", legendDotX[i]).attr("cy", 25).attr("r", 7).attr("fill", legendDots[i])
    text(g, legendDotX[i] + (i === 2 ? 14 : 13), 32, s, 20.6, "start", "#444")
  })

  const grid = g.append("g").attr("stroke", "#ececec").attr("stroke-width", 1)
  xTicksA.forEach((t) => grid.append("line").attr("x1", x(t)).attr("x2", x(t)).attr("y1", top).attr("y2", bottom))
  yTicksA.forEach((t) => grid.append("line").attr("x1", left).attr("x2", right).attr("y1", y(t)).attr("y2", y(t)))

  const dots = (pts: [number, number][], fill: string) =>
    g.append("g").attr("fill", fill).selectAll("circle").data(pts).join("circle").attr("cx", (d) => x(d[0])).attr("cy", (d) => y(d[1])).attr("r", 6.2)

  const grey = "#bdbdbd", blue = "#4fb9d8", orange = "#f59d80"
  const nsArea = d3.area<[number, number, number]>().x((d) => x(d[0])).y0((d) => y(d[1])).y1((d) => y(d[2]))
  g.append("path").attr("d", nsArea(nsEnvelope)).attr("fill", grey).attr("stroke", grey).attr("stroke-width", 4).attr("stroke-linejoin", "round")
  dots(nsPoints, grey)
  const band = d3.area<[number, number]>().x((d) => x(d[0])).y0(y(1.5)).y1((d) => y(d[1]))
  g.append("path").attr("d", band(downEnvelope)).attr("fill", blue).attr("stroke", blue).attr("stroke-width", 4).attr("stroke-linejoin", "round")
  dots(downPoints, blue)
  g.append("path").attr("d", band(upEnvelope)).attr("fill", orange).attr("stroke", orange).attr("stroke-width", 4).attr("stroke-linejoin", "round")
  dots(upPoints, orange)

  const thresholds = g.append("g").attr("stroke", "#a8a8a8").attr("stroke-width", 1)
  ;[-1, 1].forEach((t) => thresholds.append("line").attr("x1", x(t)).attr("x2", x(t)).attr("y1", top).attr("y2", bottom))
  thresholds.append("line").attr("x1", left).attr("x2", right).attr("y1", y(1.3)).attr("y2", y(1.3))
  g.append("rect").attr("x", left).attr("y", top).attr("width", right - left).attr("height", bottom - top).attr("fill", "none").attr("stroke", "#777").attr("stroke-width", 2)

  const ax = g.append("g").attr("transform", `translate(0,${bottom})`).call(d3.axisBottom(x).tickValues(xTicksA).tickSize(5).tickPadding(8).tickFormat((d) => String(d).replace("-", "−")))
  const ay = g.append("g").attr("transform", `translate(${left},0)`).call(d3.axisLeft(y).tickValues(yTicksA).tickSize(5).tickPadding(6))
  ;[ax, ay].forEach((a) => {
    a.select(".domain").remove()
    a.selectAll("line").attr("stroke", "#666").attr("stroke-width", 1.5)
    a.selectAll("text").attr("font-size", 25).attr("font-family", FONT).attr("fill", INK)
  })

  const xt = text(g, 407, 710, "Log", 33, "middle")
  xt.append("tspan").attr("font-size", 22).attr("dy", 7).text("2")
  xt.append("tspan").attr("dy", -7).text(" (fold-change)")
  text(g, 407, 756, "OP vs. normal", 32.5, "middle")
  const yt = g.append("text").attr("transform", "translate(53,342) rotate(-90)").attr("text-anchor", "middle").attr("font-size", 33).attr("fill", INK).text("–Log")
  yt.append("tspan").attr("font-size", 22).attr("dy", 7).text("10")
  yt.append("tspan").attr("dy", -7).text(" (P-value)")
}

function drawVenn(g: G) {
  panelLetter(g, 884, 76, "B")
  const cy = 423, r = 316
  const cx = [1192, 1604]
  const defs = g.append("defs")
  defs.append("clipPath").attr("id", "venn-left").append("circle").attr("cx", cx[0]).attr("cy", cy).attr("r", r)
  g.append("circle").attr("cx", cx[0]).attr("cy", cy).attr("r", r).attr("fill", "#8080ff")
  g.append("circle").attr("cx", cx[1]).attr("cy", cy).attr("r", r).attr("fill", "#ffff80")
  g.append("circle").attr("cx", cx[1]).attr("cy", cy).attr("r", r).attr("fill", "#bfbf80").attr("clip-path", "url(#venn-left)")
  cx.forEach((c) => g.append("circle").attr("cx", c).attr("cy", cy).attr("r", r).attr("fill", "none").attr("stroke", "#111").attr("stroke-width", 2.5))
  const titleX = [1193, 1596]
  vennSets.forEach((s, i) => text(g, titleX[i], 84, s, 29, "middle", "#333"))
  const textX = [1101, 1397, 1691]
  vennCounts.forEach((s, i) => {
    text(g, textX[i], 409, s, 36, "middle", "#111", "bold")
    text(g, textX[i], 446, vennShares[i], 31, "middle", "#111", "bold")
  })
}

function drawString(g: G) {
  panelLetter(g, 70, 886, "C")
  const x = d3.scaleLinear().domain([0, 1568]).range([0, 1130])
  const y = d3.scaleLinear().domain([0, 1568]).range([820, 1900])
  const pos = new Map<string, [number, number]>()
  stringNamed.forEach(([n, a, b]) => pos.set(n, [x(a), y(b)]))
  stringCore.forEach(([a, b], i) => pos.set(String(i), [x(a), y(b)]))

  const edges = g.append("g").attr("fill", "none")
  const strands = (a: string, b: string, palette: string[], count: number, seed: number, width: number) => {
    const p = pos.get(a), q = pos.get(b)
    if (!p || !q || a === b) return
    const dx = q[0] - p[0], dy = q[1] - p[1], len = Math.hypot(dx, dy) || 1
    const nx = -dy / len, ny = dx / len
    for (let k = 0; k < count; k++) {
      const off = (k - (count - 1) / 2) * 1.4
      edges.append("line").attr("x1", p[0] + nx * off).attr("y1", p[1] + ny * off).attr("x2", q[0] + nx * off).attr("y2", q[1] + ny * off)
        .attr("stroke", palette[(seed + k) % palette.length]).attr("stroke-width", width).attr("stroke-opacity", 0.8)
    }
  }
  stringPeripheral.forEach((s, i) => {
    const [a, b] = s.split(" ")
    strands(a, b, strandPalettes.outer, 3, i, 1.4)
  })
  let seed = 0
  stringCoreLinks.forEach(([zone, rows]) => {
    rows.forEach((row) => {
      const [hub, partners] = row.split(":")
      expand(partners).forEach((p) => strands(hub, String(p), strandPalettes[zone], 3, seed++, 1.1))
    })
  })
  stringBold.forEach(([zone, rows]) => {
    rows.forEach((s, i) => {
      const [a, b] = s.split(" ")
      strands(a, b, strandPalettes[zone], 3, i, 2)
    })
  })

  const node = (cx: number, cy: number, c: string) =>
    g.append("circle").attr("cx", cx).attr("cy", cy).attr("r", 13).attr("fill", pastel[c][0]).attr("stroke", pastel[c][1]).attr("stroke-width", 1.8)
  stringCore.forEach(([a, b, c]) => node(x(a), y(b), c))
  stringNamed.forEach(([, a, b, c]) => node(x(a), y(b), c))
  const lab = g.append("g") as G
  stringNamed.forEach(([n, a, b]) => {
    // the DRD4 label sits under its node to stay clear of P2RX7
    if (n === "DRD4") text(lab, x(a) - 14, y(b) + 23, n, 9.5, "start", "#555")
    else text(lab, x(a) + 15, y(b) - 10, n, 9.5, "start", "#555")
  })
  stringCoreLabels.forEach(([i, n]) => text(lab, x(stringCore[i][0]) + 13, y(stringCore[i][1]) - 10, n, 9.5, "start", "#666"))
}

function drawPpi(g: G) {
  panelLetter(g, 1187, 886, "D")
  const rings = [
    { names: ring1Names, degree: ring1Degree, start: 231.43, radius: 140, cx: 1615.5, cy: 1368.7 },
    { names: ring2Names, degree: ring2Degree, start: 201, radius: 238, cx: 1607.5, cy: 1363 },
    { names: ring3Names, degree: ring3Degree, start: 192.4, radius: 324, cx: 1602.7, cy: 1363.5 },
    { names: ring4Names, degree: ring4Degree, start: 189.5, radius: 399, cx: 1602.7, cy: 1361.7 },
  ]
  const color = d3.scaleLinear<string>().domain(ppiColorRank).range(ppiColors).interpolate(d3.interpolateRgb)
  const fontSize = d3.scaleLinear().domain([10, 16, 21, 25, 30, 40, 57]).range([8, 11, 13, 16, 18, 21, 30])
  const nodes: { name: string; degree: number; x: number; y: number; rank: number }[] = []
  rings.forEach((ring) => {
    const angle = d3.scaleLinear().domain([0, ring.names.length]).range([ring.start, ring.start + 360])
    ring.names.forEach((name, i) => {
      const a = (angle(i) * Math.PI) / 180
      nodes.push({ name, degree: ring.degree[i], x: ring.cx + ring.radius * Math.sin(a), y: ring.cy - ring.radius * Math.cos(a), rank: nodes.length })
    })
  })
  const edges = g.append("g").attr("stroke", "#a2a2a2").attr("stroke-width", 1.6)
  ppiLinks.forEach((row) => {
    const [hub, list] = row.split(":")
    const a = nodes[+hub]
    expand(list).forEach((t) => {
      const b = nodes[t]
      if (b && b !== a) edges.append("line").attr("x1", a.x).attr("y1", a.y).attr("x2", b.x).attr("y2", b.y)
    })
  })
  nodes.forEach((n) => {
    g.append("circle").attr("cx", n.x).attr("cy", n.y).attr("r", n.degree).attr("fill", color(n.rank))
  })
  nodes.forEach((n) => {
    text(g, n.x, n.y + fontSize(n.degree) * 0.36, n.name, fontSize(n.degree), "middle", n.rank > 53 ? "#2b3a35" : "#2a1a14")
  })
}

function drawPathways(g: G) {
  panelLetter(g, 21, 1950, "E")
  const left = 366, right = 610, top = 1976, bottom = 2580
  const x = d3.scaleLinear().domain([17, 22]).range([375, 581])
  const y = d3.scalePoint<number>().domain(d3.range(pathwayScore.length)).range([2011, 2545])
  const r = d3.scaleLinear().domain(countTicks).range([3.6, 8.4, 10.7, 12.8, 14.6])
  const pColor = d3.scaleLinear<string>().domain([5.768682e-23, 6.296538e-18]).range(["#ff0000", "#0000ff"]).interpolate(d3.interpolateLab)

  const grid = g.append("g").attr("stroke", "#d9d9d9").attr("stroke-width", 1.5)
  d3.range(17, 23).forEach((t) => grid.append("line").attr("x1", x(t)).attr("x2", x(t)).attr("y1", top).attr("y2", bottom))
  pathwayScore.forEach((_, i) => grid.append("line").attr("x1", left).attr("x2", right).attr("y1", y(i)!).attr("y2", y(i)!))
  pathwayScore.forEach((s, i) => {
    g.append("circle").attr("cx", x(s)).attr("cy", y(i)!).attr("r", r(pathwayCount[i])).attr("fill", pColor(Math.pow(10, -s)))
  })
  g.append("rect").attr("x", left).attr("y", top).attr("width", right - left).attr("height", bottom - top).attr("fill", "none").attr("stroke", "#333").attr("stroke-width", 2.5)

  const ax = g.append("g").attr("transform", `translate(0,${bottom})`).call(d3.axisBottom(x).tickValues(d3.range(17, 23)).tickFormat(d3.format("d")).tickSize(5).tickPadding(8))
  ax.select(".domain").remove()
  ax.selectAll("line").attr("stroke", "#333").attr("stroke-width", 1.5)
  ax.selectAll("text").attr("font-size", 25).attr("font-family", FONT).attr("fill", INK)
  pathwayNames.forEach((lines, i) => {
    g.append("line").attr("x1", left - 5).attr("x2", left).attr("y1", y(i)!).attr("y2", y(i)!).attr("stroke", "#333").attr("stroke-width", 1.5)
    const off = lines.length === 1 ? [5] : i === 9 ? [-9, 20] : [-2, 24]
    lines.forEach((l, k) => text(g, 356, y(i)! + off[k], l, 25, "end"))
  })

  text(g, 491, 1956, "Pathway analysis", 29, "middle")
  const xt = text(g, 482, 2645, "Enrichment score [–log", 29, "middle")
  xt.append("tspan").attr("font-size", 20).attr("dy", 6).text("10")
  xt.append("tspan").attr("dy", -6).text(" (P-value)]")

  // count legend
  text(g, 628, 2071, "Count", 29)
  g.append("rect").attr("x", 628).attr("y", 2079).attr("width", 35).attr("height", 177).attr("fill", "#f0f0f0")
  const keyY = d3.scalePoint<number>().domain(countTicks).range([2095, 2237])
  countTicks.forEach((c) => {
    g.append("circle").attr("cx", 645.5).attr("cy", keyY(c)!).attr("r", r(c)).attr("fill", "#000")
    text(g, 668, keyY(c)! + 10, String(c), 29)
  })

  // p-value colour bar
  text(g, 628, 2315, "P-value", 29)
  const grad = g.append("defs").append("linearGradient").attr("id", "p-bar").attr("x1", 0).attr("x2", 0).attr("y1", 0).attr("y2", 1)
  const barScale = d3.scaleLinear().domain([6.296538e-18, 5.768682e-23]).range([0, 1])
  d3.range(0, 11).forEach((k) => {
    const v = barScale.invert(k / 10)
    grad.append("stop").attr("offset", k / 10).attr("stop-color", pColor(v))
  })
  const barY = d3.scaleLinear().domain([6.296538e-18, 5.768682e-23]).range([2338, 2508])
  g.append("rect").attr("x", 628.5).attr("y", 2333).attr("width", 34.5).attr("height", 178).attr("fill", "url(#p-bar)")
  pTickValues.forEach((v, i) => {
    const ty = barY(v)
    g.append("line").attr("x1", 628.5).attr("x2", 635).attr("y1", ty).attr("y2", ty).attr("stroke", "#fff").attr("stroke-width", 1)
    g.append("line").attr("x1", 656).attr("x2", 663).attr("y1", ty).attr("y2", ty).attr("stroke", "#fff").attr("stroke-width", 1)
    const t = text(g, 668, ty + 7.5, `${pTickMantissa[i]}×10`, 20.3, "start", "#333")
    t.append("tspan").attr("font-size", 14).attr("dy", -8).text(pTickExp[i])
  })
}

function drawGo(g: G) {
  panelLetter(g, 1001, 1950, "F")
  const x = d3.scaleLinear().domain([0, 40]).range([1362.6, 1986])
  const y = d3.scaleBand().domain(goTerms).range([1990, 2622]).padding(0.14)
  const color = d3.scaleOrdinal<string>().domain(ontologies).range(ontologyColors)
  goTerms.forEach((t, i) => {
    g.append("rect").attr("x", x(0)).attr("y", y(t)!).attr("width", x(goScores[i]) - x(0)).attr("height", y.bandwidth()).attr("fill", color(goOntology[i]))
  })
  const ay = g.append("g").attr("transform", `translate(${x(0)},0)`).call(d3.axisLeft(y).tickSize(4).tickPadding(4))
  ay.select(".domain").attr("stroke", "#333").attr("stroke-width", 2)
  ay.selectAll("line").attr("stroke", "#333").attr("stroke-width", 1.5)
  ay.selectAll("text").attr("font-size", 20.9).attr("font-family", FONT).attr("fill", INK)
  const ax = g.append("g").attr("transform", "translate(0,2625)").call(d3.axisBottom(x).tickValues(goTicks).tickSize(5).tickPadding(6))
  ax.select(".domain").remove()
  g.append("line").attr("x1", x(0)).attr("x2", 2010).attr("y1", 2625).attr("y2", 2625).attr("stroke", "#333").attr("stroke-width", 2)
  ax.selectAll("line").attr("stroke", "#333").attr("stroke-width", 1.5)
  ax.selectAll("text").attr("font-size", 25).attr("font-family", FONT).attr("fill", INK)
  text(g, 1624, 1970, "GO results of three ontologies", 29.3, "middle")
  text(g, 1691, 2690, "Enrichment score", 29, "middle")

  g.append("rect").attr("x", 1900).attr("y", 1991).attr("width", 78.6).attr("height", 83).attr("fill", "#fff").attr("stroke", "#444").attr("stroke-width", 1.5)
  const rowY = [2016, 2036, 2058]
  ontologies.forEach((o, i) => {
    g.append("rect").attr("x", 1908).attr("y", rowY[i] - 9).attr("width", 26).attr("height", 18).attr("fill", ontologyColors[i])
    text(g, 1939, rowY[i] + 8, o, 22)
  })
}

export default function App() {
  const svgRef = useRef<SVGSVGElement>(null)

  useEffect(() => {
    if (!svgRef.current) return
    const svg = d3.select(svgRef.current)
    svg.selectAll("*").remove()
    const root = svg.append("g").attr("font-family", FONT) as unknown as G
    drawVolcano(root.append("g") as G)
    drawVenn(root.append("g") as G)
    drawString(root.append("g") as G)
    drawPpi(root.append("g") as G)
    drawPathways(root.append("g") as G)
    drawGo(root.append("g") as G)
  }, [])

  return <svg ref={svgRef} width={2032} height={2698} style={{ position: "absolute", left: 0, top: 0, background: "#fff" }} />
}
